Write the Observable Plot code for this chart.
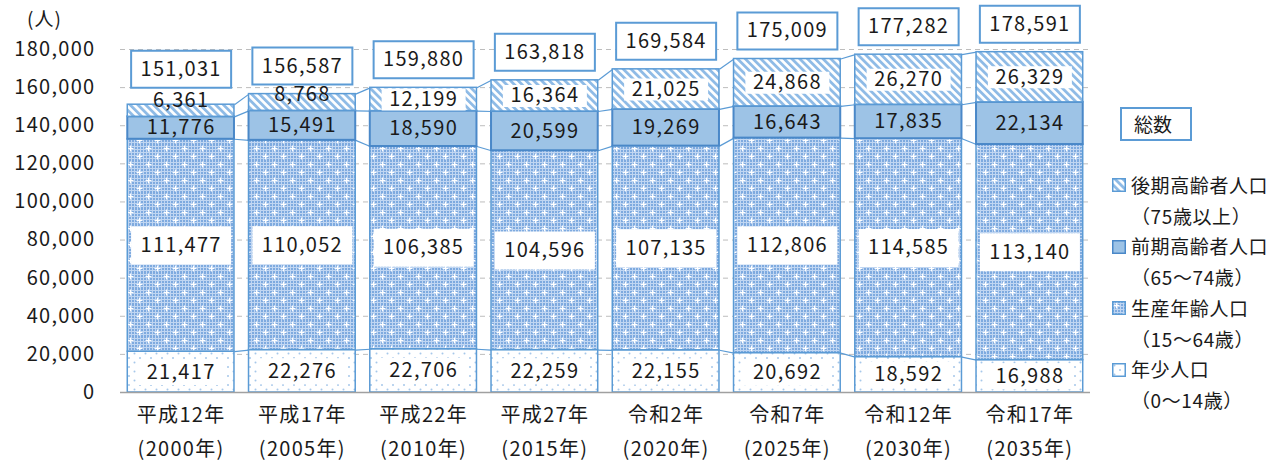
<!DOCTYPE html>
<html><head><meta charset="utf-8">
<script src="https://cdn.jsdelivr.net/npm/d3@7"></script>
<script src="https://cdn.jsdelivr.net/npm/@observablehq/plot@0.6"></script>
<style>
body{margin:0;background:#fff;font-family:"Noto Sans CJK JP",sans-serif;color:#1a1a1a}
#wrap{position:relative;width:1272px;height:461px;overflow:hidden}
#chart svg{overflow:visible}
#unit{position:absolute;left:27px;top:4px;font-size:19px;letter-spacing:1px}
#total-key{position:absolute;left:1120px;top:107px;height:30px;border:2px solid #5B9BD5;font-size:19px;line-height:30px;padding-left:12px;box-sizing:content-box;width:56px}
#legend{position:absolute;left:1112px;top:170px;font-size:19px;letter-spacing:0.6px;line-height:30.7px}
#legend .row{display:flex;align-items:center;white-space:nowrap}
#legend .row svg{margin-right:5px}
#legend .sub{padding-left:19px}
</style></head>
<body>
<svg width="0" height="0" style="position:absolute">
<defs>
<pattern id="pLate" patternUnits="userSpaceOnUse" width="5.5" height="5.5" patternTransform="rotate(-45)">
  <rect width="5.5" height="5.5" fill="#ffffff"/>
  <rect width="2.8" height="5.5" fill="#8fbbe6"/>
</pattern>
<pattern id="pCheck" patternUnits="userSpaceOnUse" width="3" height="3">
  <rect width="3" height="3" fill="#c0d6f2"/>
  <rect width="2" height="2" fill="#7eaadf"/>
</pattern>
<pattern id="pWork" patternUnits="userSpaceOnUse" width="18" height="16">
  <rect width="18" height="16" fill="url(#pCheck)"/>
  <path d="M4.5 1.5v6M1.5 4.5h6M13.5 9.5v6M10.5 12.5h6" stroke="#ffffff" stroke-width="1.2"/>
</pattern>
<pattern id="pYoung" patternUnits="userSpaceOnUse" width="11" height="9">
  <rect width="11" height="9" fill="#ffffff"/>
  <circle cx="2.5" cy="2.5" r="1" fill="#a6c8ea"/>
  <circle cx="8" cy="7" r="1" fill="#a6c8ea"/>
</pattern>
</defs>
</svg>
<div id="wrap">
  <div id="chart"></div>
  <div id="unit">(人)</div>
  <div id="total-key">総数</div>
  <div id="legend"></div>
</div>
<script>
// ---- data ----
const categories = ["平成12年\n(2000年)", "平成17年\n(2005年)", "平成22年\n(2010年)", "平成27年\n(2015年)",
                    "令和2年\n(2020年)", "令和7年\n(2025年)", "令和12年\n(2030年)", "令和17年\n(2035年)"];
const seriesNames = ["年少人口", "生産年齢人口", "前期高齢者人口", "後期高齢者人口"];
const seriesAges = ["（0～14歳）", "（15～64歳）", "（65～74歳）", "（75歳以上）"];
const young   = [21417, 22276, 22706, 22259, 22155, 20692, 18592, 16988];
const working = [111477, 110052, 106385, 104596, 107135, 112806, 114585, 113140];
const early   = [11776, 15491, 18590, 20599, 19269, 16643, 17835, 22134];
const late    = [6361, 8768, 12199, 16364, 21025, 24868, 26270, 26329];
const totals  = [151031, 156587, 159880, 163818, 169584, 175009, 177282, 178591];
const yTicks  = [0, 20000, 40000, 60000, 80000, 100000, 120000, 140000, 160000, 180000];

// ---- styling ----
const fills = ["url(#pYoung)", "url(#pWork)", "#9DC3E6", "url(#pLate)"];
const strokes = ["#5B9BD5", "#5B9BD5", "#4A88C8", "#5B9BD5"];
const blue = "#5B9BD5";
const half = 0.44;
const fmt = d3.format(",");

const seriesValues = [young, working, early, late];
const segs = [];
const tops = seriesValues.map(() => []);
categories.forEach((c, i) => {
  let base = 0;
  seriesValues.forEach((vals, k) => {
    segs.push({i, k, y1: base, y2: base + vals[i], v: vals[i]});
    base += vals[i];
    tops[k].push(base);
  });
});
const links = [];
tops.forEach((arr, k) => {
  for (let i = 0; i < arr.length - 1; i++) links.push({k, a: i, b: i + 1, ya: arr[i], yb: arr[i + 1]});
});
const totalData = totals.map((t, i) => ({i, total: t}));

const boxSymbol = (w, h) => ({draw(ctx) { ctx.rect(-w / 2, -h / 2, w, h); }});
const labelY = s => (s.k === 3 && s.v < 10000) ? s.y1 + 8500 : (s.y1 + s.y2) / 2;

const marks = [
  Plot.gridY(yTicks, {stroke: "#bdbdbd", strokeOpacity: 1, strokeDasharray: "5,4"}),
  Plot.link(links, {x1: d => d.a + half, x2: d => d.b - half, y1: "ya", y2: "yb", stroke: blue, strokeWidth: 1.2})
];
for (let k = 0; k < 4; k++) {
  marks.push(Plot.rect(segs.filter(s => s.k === k), {
    x1: s => s.i - half, x2: s => s.i + half, y1: "y1", y2: "y2",
    fill: fills[k], stroke: strokes[k], strokeWidth: k === 2 ? 2 : 1.5
  }));
}
marks.push(
  Plot.ruleY([0], {stroke: "#a0a0a0", strokeWidth: 1.5}),
  // white label backgrounds
  Plot.dot(segs.filter(s => s.k === 0), {x: "i", y: labelY, symbol: boxSymbol(88, 26), fill: "white", stroke: "none"}),
  Plot.dot(segs.filter(s => s.k === 1), {x: "i", y: labelY, symbol: boxSymbol(100, 38), fill: "white", stroke: "none"}),
  Plot.dot(segs.filter(s => s.k === 3 && s.v >= 10000), {x: "i", y: labelY, symbol: boxSymbol(84, 22), fill: "white", stroke: "none"}),
  Plot.text(segs, {x: "i", y: labelY, text: s => fmt(s.v), fontSize: 20, fill: "#1a1a1a"}),
  // totals
  Plot.dot(totalData, {x: "i", y: d => Math.max(d.total, 155000), dy: -28, symbol: boxSymbol(100, 37), fill: "white", stroke: blue, strokeWidth: 2}),
  Plot.text(totalData, {x: "i", y: d => Math.max(d.total, 155000), dy: -28, text: d => fmt(d.total), fontSize: 20, fill: "#1a1a1a"}),
  Plot.axisY({ticks: yTicks, tickFormat: fmt, tickSize: 0, tickPadding: 25, label: null, fontSize: 20, fill: "#1a1a1a"}),
  Plot.axisX({ticks: d3.range(categories.length), tickFormat: i => categories[i], tickSize: 0, tickPadding: 6, lineHeight: 1.68, label: null, fontSize: 20, fill: "#1a1a1a"})
);

const chart = Plot.plot({
  width: 1272, height: 461,
  marginLeft: 120, marginRight: 182, marginTop: 49, marginBottom: 69,
  x: {type: "linear", domain: [-0.5, categories.length - 0.5]},
  y: {domain: [0, 180000]},
  style: {fontFamily: '"Noto Sans CJK JP", sans-serif', fontSize: "20px", letterSpacing: "1.3px", background: "white", color: "#1a1a1a", overflow: "visible"},
  marks
});
document.getElementById("chart").appendChild(chart);

// legend
const legend = document.getElementById("legend");
[3, 2, 1, 0].forEach(k => {
  const row = document.createElement("div");
  row.className = "row";
  row.innerHTML = `<svg width="14" height="14"><rect x="0.75" y="0.75" width="12.5" height="12.5" fill="${fills[k]}" stroke="${strokes[k]}" stroke-width="1.5"/></svg><span>${seriesNames[k]}</span>`;
  legend.appendChild(row);
  const sub = document.createElement("div");
  sub.className = "sub";
  sub.textContent = seriesAges[k];
  legend.appendChild(sub);
});
</script>
</body></html>
